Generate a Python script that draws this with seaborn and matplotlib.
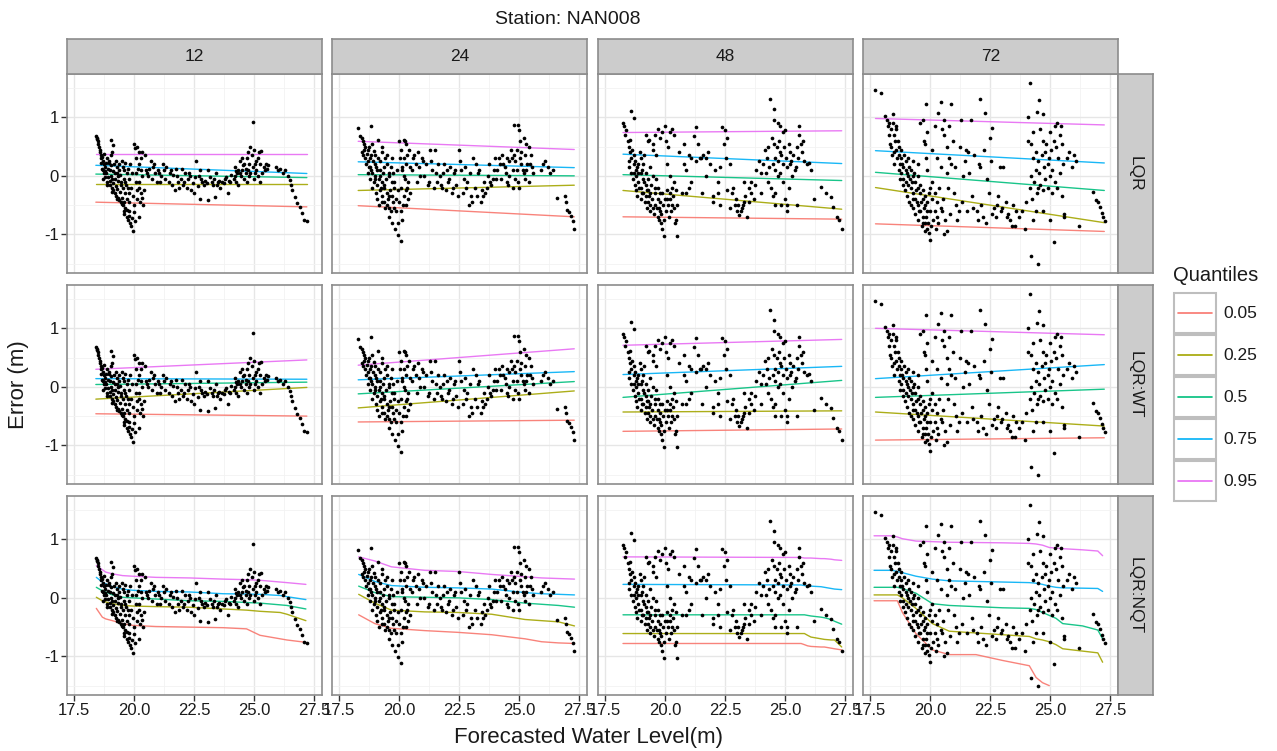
import numpy as np
import pandas as pd
import matplotlib
matplotlib.use("Agg")
import matplotlib.pyplot as plt
import seaborn as sns
from matplotlib.patches import Rectangle

# ---------------- data ----------------
LEADS = ["12", "24", "48", "72"]
METHODS = ["LQR", "LQR:WT", "LQR:NQT"]
QUANTILES = ["0.05", "0.25", "0.5", "0.75", "0.95"]
COLORS = ["#F8766D", "#A3A500", "#00BF7D", "#00B0F6", "#E76BF3"]

PTS_12 = [(18.42,0.68),(18.45,0.65),(18.48,0.63),(18.5,0.6),(18.52,0.55),(18.55,0.5),(18.58,0.45),(18.6,0.4),
          (18.62,0.35),(18.65,0.3),(18.7,0.25),(18.75,0.2),(18.8,0.15),(18.7,0.1),(18.85,0.05),(18.9,0.3),
          (18.95,0.22),(19.0,0.1),(19.05,0.0),(19.1,-0.05),(18.8,-0.02),(18.9,-0.1),(19.0,-0.15),(19.1,-0.2),
          (19.15,-0.25),(19.2,-0.3),(19.25,-0.35),(19.3,-0.4),(19.35,-0.38),(19.4,-0.42),(19.45,-0.45),
          (19.5,-0.48),(19.55,-0.5),(19.6,-0.45),(19.2,0.05),(19.3,0.15),(19.4,0.2),(19.5,0.25),(19.6,0.1),
          (19.7,0.05),(19.25,0.25),(19.05,0.35),(19.1,0.4),(19.07,0.61),(19.12,0.52),(19.65,-0.1),(19.75,-0.2),
          (19.8,-0.3),(19.55,-0.2),(19.45,-0.1),(19.35,0.0),(19.6,-0.65),(19.7,-0.7),(19.75,-0.75),
          (19.85,-0.8),(19.9,-0.85),(19.97,-0.94),(19.8,-0.6),(19.65,-0.55),(20.0,0.55),(20.05,0.48),
          (20.2,0.4),(20.35,0.4),(20.1,0.3),(20.2,0.2),(20.3,0.1),(20.1,-0.1),(20.2,-0.2),(20.3,-0.3),
          (20.15,-0.4),(20.25,-0.45),(20.0,-0.5),(20.2,-0.7),(20.05,-0.78),(20.4,-0.5),(20.5,0.1),(20.6,0.0),
          (20.7,0.25),(20.8,0.15),(20.9,0.05),(21.0,0.1),(21.2,0.2),(21.3,-0.05),(21.5,0.05),(21.6,-0.15),
          (21.8,0.0),(21.9,-0.2),(22.0,0.12),(22.1,-0.1),(22.3,0.05),(22.4,-0.25),(22.5,-0.3),(22.6,0.25),
          (22.7,0.0),(22.74,-0.4),(22.8,-0.05),(22.9,-0.15),(23.08,-0.41),(23.36,-0.37),(23.4,0.05),
          (23.5,-0.1),(23.6,-0.2),(23.8,-0.05),(23.9,-0.3),(24.0,-0.1),(24.2,0.0),(21.1,-0.1),(21.7,-0.25),
          (23.1,0.1),(23.3,-0.15),(22.2,-0.2),(24.2,0.15),(24.3,0.05),(24.4,0.25),(24.5,0.1),(24.6,-0.05),
          (24.7,0.3),(24.75,0.4),(24.8,0.0),(24.85,0.5),(24.9,0.35),(24.94,0.92),(25.0,0.45),(25.05,0.2),
          (25.1,0.1),(25.2,0.4),(25.3,0.43),(25.15,0.0),(25.25,-0.1),(25.4,0.15),(25.5,0.2),(24.35,-0.15),
          (24.55,0.18),(25.0,-0.05),(24.65,0.12),(25.9,0.15),(26.0,0.1),(26.1,0.12),(26.2,0.05),(26.3,0.1),
          (26.4,0.0),(26.5,-0.07),(26.6,-0.24),(26.7,-0.36),(26.8,-0.47),(26.9,-0.53),(27.0,-0.64),
          (27.1,-0.76),(27.2,-0.77),(26.55,-0.15)]
PTS_12_MORE = [(18.62,0.22),(18.66,0.12),(18.68,0.32),(18.72,-0.05),(18.74,0.05),(18.78,0.38),(18.82,0.08),
               (18.84,0.22),(18.88,-0.15),(18.92,0.12),(18.94,-0.02),(18.98,0.25),(19.02,-0.08),(19.04,0.18),
               (19.08,-0.28),(19.12,0.08),(19.14,-0.12),(19.18,0.2),(19.22,-0.05),(19.24,-0.18),(19.28,0.05),
               (19.32,-0.22),(19.34,-0.08),(19.38,0.1),(19.42,-0.28),(19.44,0.02),(19.48,-0.15),(19.52,-0.38),
               (19.54,0.15),(19.58,-0.05),(19.62,-0.3),(19.64,0.22),(19.68,-0.15),(19.72,-0.4),(19.74,0.12),
               (19.78,-0.05),(19.82,-0.45),(19.84,0.2),(19.88,-0.2),(19.92,0.05),(19.96,-0.35),(19.7,-0.58),
               (19.58,-0.6),(19.78,-0.68),(19.92,-0.72),(20.02,-0.62),(20.08,0.05),(20.12,-0.25),(20.18,0.12),
               (20.22,-0.1),(20.28,0.3),(20.32,-0.38),(20.36,0.0),(20.42,-0.25),(20.15,0.5),(20.45,0.35),
               (20.55,0.05),(20.65,0.12),(20.75,-0.05),(20.85,0.2),(20.95,-0.1),(21.05,0.05),(21.15,0.0),
               (21.25,0.1),(21.35,0.15),(21.45,-0.1),(21.55,0.1),(21.65,0.02),(21.75,0.12),(21.85,-0.1),
               (21.95,-0.05),(22.05,-0.15),(22.15,0.05),(22.25,-0.05),(22.35,0.0),(22.45,-0.12),(22.55,-0.02),
               (22.65,-0.18),(22.75,0.1),(22.85,-0.1),(22.95,-0.08),(23.05,-0.12),(23.15,-0.02),(23.25,-0.1),
               (23.35,-0.05),(23.45,-0.15),(23.55,-0.08),(23.65,-0.1),(23.75,-0.12),(23.85,-0.02),(23.95,-0.08),
               (24.05,0.02),(24.15,-0.05),(24.25,0.08),(24.35,0.1),(24.45,0.0),(24.5,0.3),(24.6,0.2),
               (24.65,0.05),(24.7,-0.1),(24.8,0.2),(24.85,0.05),(24.95,0.15),(25.05,0.05),(25.1,0.25),
               (25.15,0.3),(25.25,0.2),(25.35,0.05),(25.45,0.1),(24.25,-0.1),(24.4,0.05),(24.75,0.1),
               (25.55,0.12),(25.6,0.18)]

PTS_24 = [(18.31,0.82),(18.86,0.86),(18.4,0.68),(18.45,0.65),(18.5,0.6),(18.55,0.55),(18.45,0.4),(18.5,0.35),
          (18.6,0.3),(18.7,0.45),(18.9,0.55),(18.7,0.25),(18.8,0.15),(18.9,0.05),(19.0,-0.05),(19.1,-0.15),
          (19.2,-0.25),(19.3,-0.35),(19.4,-0.45),(19.5,-0.5),(19.6,-0.55),(18.8,0.3),(19.0,0.2),(19.1,0.1),
          (19.2,0.0),(19.3,-0.1),(19.4,-0.2),(19.5,-0.3),(19.6,-0.35),(19.0,0.35),(19.2,0.25),(19.4,0.15),
          (19.6,0.05),(19.7,-0.1),(19.8,-0.2),(19.14,0.61),(19.3,0.5),(19.5,0.35),(19.7,0.3),(19.6,-0.7),
          (19.7,-0.8),(19.85,-0.9),(19.95,-1.01),(20.1,-1.11),(19.9,-0.6),(19.75,-0.45),(20.0,0.6),
          (20.2,0.62),(20.3,0.55),(20.1,0.45),(20.2,0.3),(20.3,0.2),(20.15,0.1),(20.25,-0.05),(20.35,-0.2),
          (20.2,-0.35),(20.4,-0.4),(20.3,-0.5),(20.1,-0.6),(20.45,0.15),(20.6,0.3),(20.7,0.2),(20.8,0.4),
          (20.9,0.0),(21.0,0.25),(21.3,0.45),(21.5,0.45),(21.4,0.1),(21.6,-0.1),(21.7,0.0),(21.8,-0.2),
          (21.9,0.2),(22.0,0.1),(22.1,-0.05),(22.2,-0.3),(22.4,-0.15),(22.5,0.45),(22.6,0.1),(22.7,-0.05),
          (22.8,-0.2),(22.9,-0.5),(23.0,-0.35),(23.1,0.3),(23.2,0.2),(23.3,0.05),(23.4,-0.45),(23.5,-0.35),
          (23.6,-0.3),(23.8,-0.1),(23.9,-0.05),(24.0,0.3),(21.2,-0.15),(22.3,0.05),(23.7,0.0),(24.1,0.1),
          (24.2,0.2),(24.3,0.35),(24.4,0.15),(24.5,0.3),(24.6,0.0),(24.7,0.3),(24.8,0.87),(24.95,0.87),
          (25.0,0.79),(25.05,0.6),(24.9,0.45),(25.1,0.4),(25.2,0.65),(25.3,0.55),(25.4,0.5),(25.15,0.1),
          (25.25,-0.05),(25.0,-0.2),(24.85,-0.05),(25.5,0.35),(25.35,0.2),(24.55,-0.15),(25.6,0.05),
          (25.9,0.1),(26.0,0.2),(26.1,0.25),(26.2,0.15),(26.3,0.05),(26.4,0.1),(26.6,-0.38),(26.9,-0.34),
          (26.95,-0.45),(27.0,-0.59),(27.1,-0.62),(27.15,-0.69),(27.25,-0.78),(27.3,-0.9)]
PTS_24_MORE = [(18.55,0.45),(18.6,0.5),(18.62,0.2),(18.66,0.38),(18.7,0.05),(18.74,0.15),(18.76,0.5),(18.8,-0.05),
               (18.84,0.35),(18.86,0.1),(18.9,-0.2),(18.92,0.25),(18.96,-0.1),(18.98,0.42),(19.02,0.0),
               (19.04,-0.3),(19.06,0.15),(19.1,-0.4),(19.12,0.3),(19.16,-0.05),(19.18,-0.5),(19.22,0.1),
               (19.26,-0.2),(19.28,0.4),(19.32,-0.45),(19.34,0.05),(19.38,-0.15),(19.42,0.3),(19.44,-0.55),
               (19.48,-0.05),(19.52,0.2),(19.54,-0.4),(19.58,0.0),(19.62,-0.25),(19.66,-0.6),(19.68,0.15),
               (19.72,-0.35),(19.76,0.05),(19.8,-0.55),(19.82,-0.1),(19.88,-0.4),(19.92,0.1),(19.96,-0.25),
               (20.02,-0.45),(20.05,0.3),(20.08,-0.2),(20.12,0.15),(20.18,-0.5),(20.22,0.0),(20.28,-0.25),
               (20.32,0.35),(20.38,-0.1),(20.42,0.45),(20.48,-0.3),(20.12,-0.75),(19.98,-0.8),(20.25,0.6),
               (20.55,0.1),(20.65,0.35),(20.75,-0.1),(20.85,0.15),(20.95,0.3),(21.05,0.0),(21.15,0.2),
               (21.25,-0.1),(21.35,0.25),(21.45,-0.2),(21.55,0.05),(21.65,0.2),(21.75,-0.15),(21.85,0.05),
               (21.95,-0.25),(22.05,-0.1),(22.15,0.15),(22.25,-0.2),(22.35,0.1),(22.45,-0.35),(22.55,0.25),
               (22.65,-0.3),(22.75,0.15),(22.85,-0.1),(22.95,0.05),(23.05,-0.45),(23.15,-0.2),(23.25,-0.35),
               (23.35,0.1),(23.45,-0.25),(23.55,-0.1),(23.65,-0.2),(23.75,0.2),(23.85,-0.15),(23.95,0.1),
               (24.05,-0.05),(24.15,0.3),(24.25,-0.05),(24.35,0.2),(24.45,0.05),(24.5,-0.1),(24.6,0.25),
               (24.65,0.45),(24.75,0.1),(24.8,0.35),(24.85,0.25),(24.9,0.1),(24.95,-0.1),(25.05,0.3),
               (25.1,0.2),(25.2,0.05),(25.25,0.35),(25.3,0.1),(25.45,0.2),(25.55,0.15),(24.75,-0.2),(25.4,-0.1)]

PTS_48 = [(18.26,0.9),(18.3,0.85),(18.4,0.78),(18.35,0.7),(18.61,1.11),(18.72,0.98),(18.45,0.6),(18.5,0.5),
          (18.55,0.4),(18.6,0.3),(18.5,0.25),(18.7,0.2),(18.8,0.1),(18.7,0.05),(18.8,0.0),(18.9,-0.1),
          (19.0,-0.2),(19.1,-0.3),(19.2,-0.35),(19.3,-0.45),(19.4,-0.5),(19.5,-0.55),(19.0,0.05),(19.1,-0.05),
          (19.2,-0.15),(19.3,-0.25),(19.4,-0.3),(18.9,0.2),(19.0,0.3),(19.15,0.35),(19.2,0.7),(19.35,0.62),
          (19.5,0.45),(19.6,0.7),(19.7,0.8),(19.8,0.65),(19.6,-0.2),(19.7,-0.4),(19.75,-0.55),(19.8,-0.6),
          (19.7,-0.7),(19.85,-0.8),(19.95,-1.03),(19.9,-0.9),(19.6,-0.5),(20.0,0.85),(20.2,0.75),(20.4,0.7),
          (20.1,0.2),(20.2,0.0),(20.3,-0.2),(20.1,-0.4),(20.3,-0.5),(20.5,-1.02),(20.45,-0.75),(20.5,-0.5),
          (20.2,-0.3),(20.4,-0.1),(20.8,0.2),(21.0,0.35),(21.2,0.68),(21.3,0.84),(21.5,0.3),(21.6,0.35),
          (21.7,0.0),(21.8,0.4),(22.0,-0.35),(22.2,-0.1),(22.4,0.84),(22.5,0.78),(22.6,0.65),(22.7,0.2),
          (22.8,-0.3),(22.9,-0.5),(23.0,-0.6),(23.1,-0.67),(23.2,-0.55),(23.3,-0.45),(23.4,-0.7),(23.5,-0.2),
          (23.6,-0.1),(23.8,0.1),(24.0,-0.3),(21.1,-0.1),(22.1,0.1),(23.7,-0.4),(20.9,-0.3),(22.3,-0.5),
          (24.1,0.2),(24.2,0.05),(24.3,0.5),(24.39,1.32),(24.53,1.15),(24.55,0.96),(24.7,0.9),(24.8,0.85),
          (24.9,0.75),(25.0,0.78),(24.4,-0.2),(24.5,-0.35),(24.6,0.3),(24.7,0.0),(24.8,0.4),(24.9,-0.1),
          (25.0,-0.4),(25.1,-0.6),(25.2,0.2),(25.3,0.0),(25.4,0.1),(25.5,0.5),(25.6,0.7),(25.7,0.4),
          (25.8,0.25),(25.9,0.2),(26.0,0.22),(26.1,0.1),(24.6,-0.5),(25.15,0.55),(25.6,0.85),(26.2,-0.4),
          (26.5,-0.19),(26.7,-0.3),(26.9,-0.36),(27.0,-0.53),(27.15,-0.7),(27.25,-0.75),(27.36,-0.91)]
PTS_48_MORE = [(18.5,0.15),(18.55,0.62),(18.6,0.05),(18.62,0.45),(18.66,-0.05),(18.7,0.35),(18.74,-0.15),
               (18.78,0.25),(18.8,-0.25),(18.84,0.15),(18.86,-0.35),(18.9,0.05),(18.94,-0.2),(18.96,0.4),
               (19.0,-0.4),(19.04,0.1),(19.06,-0.3),(19.1,0.2),(19.12,-0.1),(19.16,-0.45),(19.2,0.05),
               (19.24,-0.25),(19.26,-0.55),(19.3,-0.05),(19.34,-0.35),(19.38,0.15),(19.4,-0.6),(19.44,-0.15),
               (19.48,-0.4),(19.52,0.0),(19.56,-0.65),(19.6,-0.3),(19.64,-0.05),(19.66,-0.55),(19.7,-0.2),
               (19.74,-0.75),(19.78,-0.3),(19.82,-0.45),(19.86,-0.65),(19.9,-0.3),(19.94,-0.5),(19.98,-0.75),
               (20.02,-0.4),(20.06,-0.6),(20.1,-0.25),(20.14,-0.5),(20.18,-0.7),(20.22,-0.4),(20.26,-0.6),
               (20.32,-0.35),(20.38,-0.55),(20.42,-0.8),(20.48,-0.25),(19.3,0.6),(19.5,0.55),(19.9,0.75),
               (20.05,0.6),(20.3,0.8),(20.15,0.5),(19.65,0.35),(20.6,0.4),(20.7,-0.3),(20.8,0.55),(20.9,0.1),
               (21.0,-0.2),(21.1,0.3),(21.3,0.25),(21.4,0.55),(21.45,0.3),(21.55,-0.3),(21.7,0.3),(21.9,0.2),
               (22.0,-0.45),(22.3,0.15),(22.45,0.55),(22.55,0.3),(22.6,-0.25),(22.7,-0.55),(22.85,-0.2),
               (22.95,-0.4),(23.05,-0.5),(23.15,-0.6),(23.25,-0.5),(23.35,-0.35),(23.5,-0.45),(23.6,-0.3),
               (23.75,-0.15),(23.9,0.25),(24.0,0.05),(23.3,-0.1),(22.2,-0.3),(24.15,0.45),(24.25,0.3),
               (24.3,-0.1),(24.35,0.15),(24.45,0.65),(24.5,0.2),(24.55,0.55),(24.6,0.1),(24.65,0.5),
               (24.7,0.25),(24.75,0.6),(24.8,0.05),(24.85,0.35),(24.9,0.2),(24.95,0.5),(25.05,0.3),
               (25.1,0.15),(25.15,-0.2),(25.2,0.4),(25.25,0.25),(25.35,0.35),(25.45,0.15),(25.55,0.3),
               (25.65,0.55),(25.75,0.6),(24.6,-0.3),(24.85,-0.5),(25.1,-0.5),(25.5,-0.5)]

PTS_72 = [(17.72,1.47),(17.96,1.41),(18.14,1.03),(18.2,0.95),(18.3,0.9),(18.25,0.85),(18.4,0.8),(18.45,1.05),
          (18.6,0.85),(18.5,0.7),(18.55,0.6),(18.4,0.5),(18.5,0.4),(18.6,0.45),(18.7,0.35),(18.8,0.3),
          (18.75,0.2),(18.9,0.15),(19.0,0.1),(19.1,0.0),(18.8,0.05),(18.9,-0.05),(19.0,-0.1),(19.1,-0.15),
          (19.2,-0.2),(19.3,-0.3),(19.4,-0.4),(19.5,-0.5),(19.6,-0.6),(19.7,-0.7),(19.8,-0.8),(19.9,-0.9),
          (19.95,-0.98),(20.0,-1.09),(19.2,0.1),(19.3,0.0),(19.4,-0.1),(19.5,-0.2),(19.6,-0.3),(19.7,-0.4),
          (19.8,-0.5),(19.9,-0.6),(19.3,-0.55),(19.5,-0.75),(19.7,-0.8),(19.1,0.3),(19.3,0.25),(19.5,0.2),
          (19.6,0.9),(19.7,0.95),(19.8,0.55),(19.85,0.3),(19.9,0.1),(20.0,-0.2),(20.1,-0.4),(20.2,-0.6),
          (20.3,-0.7),(19.85,1.22),(20.45,1.26),(20.9,1.23),(20.35,1.07),(20.5,0.8),(20.6,0.7),(20.7,0.5),
          (20.8,0.3),(20.9,0.2),(21.0,-0.3),(21.1,-0.5),(21.2,-0.6),(20.6,-0.99),(20.7,-0.95),(20.5,-0.6),
          (21.3,0.95),(21.5,0.45),(21.6,0.4),(22.1,1.32),(22.3,1.07),(22.5,0.64),(22.6,0.82),(21.8,-0.55),
          (22.0,-0.75),(22.2,-0.7),(22.4,-0.05),(22.6,-0.65),(22.8,-0.5),(23.0,-0.55),(23.2,-0.7),
          (23.4,-0.85),(23.6,-0.6),(22.9,0.15),(21.4,0.0),(24.1,1.0),(24.17,1.59),(24.2,0.55),(24.3,0.3),
          (24.4,0.1),(24.5,-0.2),(24.55,1.29),(24.45,1.09),(24.6,0.8),(24.7,0.6),(24.8,0.4),(24.9,0.2),
          (25.0,0.0),(25.1,-0.3),(24.7,1.05),(25.0,0.75),(25.2,0.85),(25.3,0.9),(25.4,0.7),(25.5,0.55),
          (25.3,-0.2),(25.5,-0.35),(24.4,-0.6),(24.0,-0.45),(24.2,-1.37),(24.5,-1.51),(25.15,-1.13),
          (25.6,-0.65),(26.0,0.35),(26.1,0.25),(25.8,0.4),(26.8,-0.27),(26.9,-0.41),(27.0,-0.45),
          (27.1,-0.53),(27.15,-0.64),(27.2,-0.7),(27.3,-0.78)]
PTS_72_MORE = [(18.3,0.7),(18.35,0.55),(18.42,0.35),(18.48,0.9),(18.52,0.2),(18.58,0.8),(18.62,0.3),(18.66,0.6),
               (18.7,0.1),(18.72,0.5),(18.78,-0.05),(18.8,0.45),(18.84,0.2),(18.88,-0.15),(18.92,0.35),
               (18.96,-0.25),(19.0,0.25),(19.04,-0.35),(19.06,0.05),(19.12,-0.45),(19.14,0.15),(19.18,-0.05),
               (19.22,-0.5),(19.26,-0.1),(19.3,-0.4),(19.34,0.05),(19.38,-0.65),(19.42,-0.25),(19.46,-0.45),
               (19.5,0.0),(19.54,-0.6),(19.58,-0.15),(19.62,-0.45),(19.66,-0.85),(19.7,-0.25),(19.74,-0.55),
               (19.78,-0.95),(19.82,-0.35),(19.86,-0.7),(19.9,-0.45),(19.94,-0.8),(19.98,-0.3),(20.02,-0.6),
               (20.06,-0.85),(20.1,-0.1),(20.14,-0.75),(20.2,-0.3),(20.25,-0.9),(20.3,-0.45),(20.35,-0.8),
               (20.4,-0.2),(20.45,-0.55),(20.55,-0.4),(20.65,-0.75),(20.75,-0.2),(20.85,-0.65),(19.75,0.6),
               (19.9,0.75),(20.1,0.45),(20.2,0.85),(20.3,0.3),(20.45,0.15),(20.6,0.95),(20.7,0.05),(20.8,0.85),
               (20.95,0.6),(21.05,0.15),(21.15,-0.75),(21.25,0.5),(21.35,-0.45),(21.45,0.25),(21.55,-0.6),
               (21.65,0.05),(21.75,-0.35),(21.85,0.35),(21.95,-0.6),(22.05,0.2),(22.15,-0.5),(22.25,0.45),
               (22.35,-0.8),(22.45,-0.3),(22.55,0.25),(22.65,-0.55),(22.75,-0.7),(22.85,-0.35),(22.95,-0.6),
               (23.05,0.15),(23.15,-0.45),(23.25,-0.65),(23.35,-0.75),(23.45,-0.5),(23.55,-0.85),(23.7,-0.7),
               (23.85,-0.6),(23.95,-0.9),(22.1,0.15),(21.7,0.95),(24.1,0.6),(24.15,-0.2),(24.2,0.0),
               (24.25,-0.4),(24.3,0.75),(24.35,-0.1),(24.4,0.4),(24.45,-0.3),(24.5,0.25),(24.55,0.05),
               (24.6,-0.15),(24.65,0.35),(24.7,-0.25),(24.75,0.15),(24.8,-0.05),(24.85,0.55),(24.9,-0.2),
               (24.95,0.3),(25.05,0.45),(25.1,0.1),(25.15,0.6),(25.2,-0.1),(25.25,0.5),(25.35,0.3),(25.4,0.05),
               (25.45,0.85),(25.55,0.2),(25.6,-0.7),(25.7,0.3),(25.9,0.15),(24.3,-0.75),(24.7,-0.6),
               (25.0,-0.75),(26.2,-0.85)]

# linear quantile fits (start, end) in quantile order 0.05 .. 0.95
LINE_X_12 = [18.42, 27.2]
LINE_X_24 = [18.31, 27.3]
LINE_X_48 = [18.26, 27.36]
LINE_X_72 = [17.74, 27.26]
LQR_12 = [[-0.45, -0.53], [-0.14, -0.14], [0.03, -0.03], [0.18, 0.04], [0.375, 0.375]]
LQR_24 = [[-0.51, -0.70], [-0.25, -0.16], [0.02, 0.0], [0.24, 0.14], [0.59, 0.45]]
LQR_48 = [[-0.70, -0.74], [-0.25, -0.57], [0.02, -0.08], [0.37, 0.21], [0.74, 0.77]]
LQR_72 = [[-0.82, -0.95], [-0.20, -0.80], [0.06, -0.25], [0.43, 0.22], [0.98, 0.87]]
WT_12 = [[-0.46, -0.50], [-0.21, -0.01], [0.04, 0.08], [0.14, 0.13], [0.30, 0.46]]
WT_24 = [[-0.60, -0.57], [-0.36, -0.07], [-0.12, 0.09], [0.12, 0.26], [0.37, 0.65]]
WT_48 = [[-0.76, -0.72], [-0.43, -0.41], [-0.18, 0.11], [0.21, 0.35], [0.71, 0.81]]
WT_72 = [[-0.91, -0.87], [-0.43, -0.67], [-0.18, -0.04], [0.14, 0.38], [1.00, 0.89]]

# NQT quantile curves
NQT_X_12 = [18.44, 18.69, 18.83, 19.11, 19.53, 19.94, 20.92, 22.32, 23.72, 24.69, 25.25, 26.09, 26.37, 27.16]
NQT_12 = [[-0.18, -0.33, -0.36, -0.39, -0.44, -0.47, -0.49, -0.50, -0.51, -0.53, -0.64, -0.70, -0.72, -0.76],
          [0.01, -0.05, -0.07, -0.10, -0.13, -0.14, -0.15, -0.16, -0.19, -0.21, -0.23, -0.25, -0.28, -0.39],
          [0.18, 0.12, 0.10, 0.05, 0.01, 0.0, -0.02, -0.05, -0.06, -0.08, -0.09, -0.12, -0.13, -0.19],
          [0.35, 0.27, 0.24, 0.19, 0.15, 0.13, 0.11, 0.10, 0.07, 0.065, 0.06, 0.04, 0.02, -0.03],
          [0.55, 0.48, 0.44, 0.41, 0.38, 0.37, 0.35, 0.34, 0.32, 0.31, 0.30, 0.27, 0.26, 0.23]]
NQT_X_24 = [18.33, 19.0, 19.69, 21.08, 22.47, 23.86, 25.25, 25.94, 26.64, 27.31]
NQT_24 = [[-0.29, -0.44, -0.52, -0.56, -0.59, -0.63, -0.70, -0.75, -0.77, -0.78],
          [0.06, -0.09, -0.21, -0.24, -0.25, -0.28, -0.37, -0.39, -0.41, -0.48],
          [0.20, 0.09, 0.02, 0.01, 0.0, -0.03, -0.09, -0.11, -0.13, -0.16],
          [0.40, 0.28, 0.21, 0.18, 0.17, 0.15, 0.09, 0.07, 0.06, 0.05],
          [0.70, 0.63, 0.53, 0.47, 0.45, 0.40, 0.36, 0.34, 0.33, 0.32]]
NQT_X_48 = [18.26, 25.67, 25.81, 25.94, 26.08, 26.5, 26.64, 26.92, 27.06, 27.36]
NQT_48 = [[-0.78, -0.78, -0.80, -0.82, -0.83, -0.84, -0.84, -0.86, -0.87, -0.89],
          [-0.61, -0.61, -0.61, -0.64, -0.67, -0.70, -0.71, -0.72, -0.72, -0.84],
          [-0.29, -0.29, -0.29, -0.30, -0.31, -0.33, -0.34, -0.37, -0.40, -0.45],
          [0.23, 0.22, 0.21, 0.21, 0.20, 0.19, 0.18, 0.16, 0.15, 0.14],
          [0.70, 0.69, 0.68, 0.68, 0.68, 0.67, 0.67, 0.66, 0.65, 0.64]]
NQT_X_72 = [17.68, 18.44, 18.65, 18.86, 19.42, 20.11, 20.81, 21.92, 23.03, 24.14, 24.42, 24.69, 24.97,
            25.25, 25.53, 26.36, 26.99, 27.19]
NQT_72 = [[-0.05, -0.05, -0.05, -0.25, -0.61, -0.89, -0.97, -0.97, -1.07, -1.16, -1.36, -1.45, -1.50,
           np.nan, np.nan, np.nan, np.nan, np.nan],
          [0.05, 0.05, 0.05, 0.0, -0.18, -0.44, -0.57, -0.60, -0.63, -0.66, -0.70, -0.72, -0.75, -0.80,
           -0.87, -0.91, -0.94, -1.10],
          [0.18, 0.18, 0.18, 0.16, 0.08, -0.10, -0.13, -0.15, -0.17, -0.18, -0.20, -0.25, -0.30, -0.35,
           -0.44, -0.48, -0.55, -0.70],
          [0.47, 0.47, 0.45, 0.43, 0.37, 0.32, 0.29, 0.28, 0.27, 0.26, 0.25, 0.23, 0.20, 0.18, 0.17,
           0.165, 0.16, 0.11],
          [1.06, 1.06, 1.04, 1.01, 0.97, 0.96, 0.95, 0.945, 0.94, 0.93, 0.92, 0.90, 0.86, 0.85, 0.84,
           0.82, 0.80, 0.72]]

POINTS = {"12": PTS_12 + PTS_12_MORE, "24": PTS_24 + PTS_24_MORE,
          "48": PTS_48 + PTS_48_MORE, "72": PTS_72 + PTS_72_MORE}
LINES = {
    ("12", "LQR"): (LINE_X_12, LQR_12), ("24", "LQR"): (LINE_X_24, LQR_24),
    ("48", "LQR"): (LINE_X_48, LQR_48), ("72", "LQR"): (LINE_X_72, LQR_72),
    ("12", "LQR:WT"): (LINE_X_12, WT_12), ("24", "LQR:WT"): (LINE_X_24, WT_24),
    ("48", "LQR:WT"): (LINE_X_48, WT_48), ("72", "LQR:WT"): (LINE_X_72, WT_72),
    ("12", "LQR:NQT"): (NQT_X_12, NQT_12), ("24", "LQR:NQT"): (NQT_X_24, NQT_24),
    ("48", "LQR:NQT"): (NQT_X_48, NQT_48), ("72", "LQR:NQT"): (NQT_X_72, NQT_72),
}

prow = []
for lead, pts in POINTS.items():
    for m in METHODS:
        for x, y in pts:
            prow.append((lead, m, x, y))
pts_df = pd.DataFrame(prow, columns=["lead", "method", "x", "y"])

lrow = []
for (lead, m), (xs, ys_all) in LINES.items():
    for q, ys in zip(QUANTILES, ys_all):
        for x, y in zip(xs, ys):
            lrow.append((lead, m, q, x, y))
line_df = pd.DataFrame(lrow, columns=["lead", "method", "q", "x", "y"]).dropna()

# ---------------- layout ----------------
W, H = 1277, 751
FONT = ["Liberation Sans", "DejaVu Sans"]
sns.set_theme(style="white")
plt.rcParams["font.family"] = FONT
plt.rcParams["axes.unicode_minus"] = False

fig = plt.figure(figsize=(W / 100, H / 100), dpi=100)
fig.patch.set_facecolor("white")


def rect(x0, y0, w, h):
    return [x0 / W, 1 - (y0 + h) / H, w / W, h / H]


COL_L = [67, 332, 598, 863]
ROW_T = [74, 285, 496]
PW, PH = 255, 199
STRIP = 35
STRIP_FC = "#CCCCCC"
STRIP_EC = "#8C8C8C"
XLIM = (17.22, 27.83)
YLIM = (-1.66, 1.74)
TXT = "#1a1a1a"

for r, m in enumerate(METHODS):
    for c, lead in enumerate(LEADS):
        ax = fig.add_axes(rect(COL_L[c], ROW_T[r], PW, PH))
        ax.set_facecolor("white")
        sub_l = line_df[(line_df.lead == lead) & (line_df.method == m)]
        sns.lineplot(data=sub_l, x="x", y="y", hue="q", hue_order=QUANTILES, palette=COLORS,
                     estimator=None, sort=False, legend=False, linewidth=1.0, alpha=0.9, ax=ax, zorder=2)
        sub_p = pts_df[(pts_df.lead == lead) & (pts_df.method == m)]
        sns.scatterplot(data=sub_p, x="x", y="y", color="black", s=7, linewidth=0, ax=ax, zorder=3)
        ax.set_xlim(*XLIM)
        ax.set_ylim(*YLIM)
        ax.set_xticks([17.5, 20.0, 22.5, 25.0, 27.5])
        ax.set_yticks([-1, 0, 1])
        ax.set_xticks([18.75, 21.25, 23.75, 26.25], minor=True)
        ax.set_yticks([-1.5, -0.5, 0.5, 1.5], minor=True)
        ax.grid(True, which="major", color="#E6E6E6", linewidth=1.0, zorder=0)
        ax.grid(True, which="minor", color="#F2F2F2", linewidth=0.6, zorder=0)
        ax.set_axisbelow(True)
        ax.set_xlabel("")
        ax.set_ylabel("")
        for s in ax.spines.values():
            s.set_color("#8C8C8C")
            s.set_linewidth(1.2)
        ax.tick_params(which="minor", length=0)
        if r == 2:
            ax.set_xticklabels(["17.5", "20.0", "22.5", "25.0", "27.5"])
            ax.tick_params(axis="x", which="major", length=4, width=1.0, color="#333333",
                           labelsize=12, labelcolor=TXT, pad=2, bottom=True)
        else:
            ax.tick_params(axis="x", which="major", length=0, labelbottom=False)
        if c == 0:
            ax.set_yticklabels(["-1", "0", "1"])
            ax.tick_params(axis="y", which="major", length=4, width=1.0, color="#333333",
                           labelsize=12, labelcolor=TXT, pad=2, left=True)
        else:
            ax.tick_params(axis="y", which="major", length=0, labelleft=False)

for c, lead in enumerate(LEADS):
    sax = fig.add_axes(rect(COL_L[c], ROW_T[0] - STRIP, PW, STRIP))
    sax.set_facecolor(STRIP_FC)
    sax.set_xticks([]); sax.set_yticks([])
    for s in sax.spines.values():
        s.set_color(STRIP_EC); s.set_linewidth(1.2)
    sax.text(0.5, 0.5, lead, ha="center", va="center", fontsize=12.5, color=TXT,
             transform=sax.transAxes)

for r, m in enumerate(METHODS):
    sax = fig.add_axes(rect(COL_L[3] + PW, ROW_T[r], STRIP, PH))
    sax.set_facecolor(STRIP_FC)
    sax.set_xticks([]); sax.set_yticks([])
    for s in sax.spines.values():
        s.set_color(STRIP_EC); s.set_linewidth(1.2)
    sax.text(0.5, 0.5, m, ha="center", va="center", rotation=270, fontsize=12.5, color=TXT,
             transform=sax.transAxes)

fig.text(568 / W, 1 - 19 / H, "Station: NAN008", ha="center", va="center", fontsize=14, color=TXT)
fig.text(588 / W, 1 - 738 / H, "Forecasted Water Level(m)", ha="center", va="center",
         fontsize=16, color=TXT)
fig.text(19 / W, 1 - 385 / H, "Error (m)", ha="center", va="center", rotation=90,
         fontsize=16, color=TXT)

KX, KY, KW, KH = 1173, 292, 44, 42
fig.text(KX / W, 1 - 275 / H, "Quantiles", ha="left", va="center", fontsize=14.5, color=TXT)
lax = fig.add_axes(rect(KX, KY, KW, KH * len(QUANTILES)))
lax.set_xlim(0, 1)
lax.set_ylim(len(QUANTILES), 0)
lax.axis("off")
for i, (q, col) in enumerate(zip(QUANTILES, COLORS)):
    lax.add_patch(Rectangle((0.02, i + 0.02), 0.96, 0.96, facecolor="white", edgecolor="#BEBEBE",
                            linewidth=1.5, clip_on=False))
    lax.plot([0.12, 0.88], [i + 0.5, i + 0.5], color=col, linewidth=1.2)
    fig.text((KX + KW + 6) / W, 1 - (KY + KH * i + KH / 2) / H, q, ha="left", va="center",
             fontsize=12.5, color=TXT)

fig.savefig("out.png", dpi=100, facecolor="white")
